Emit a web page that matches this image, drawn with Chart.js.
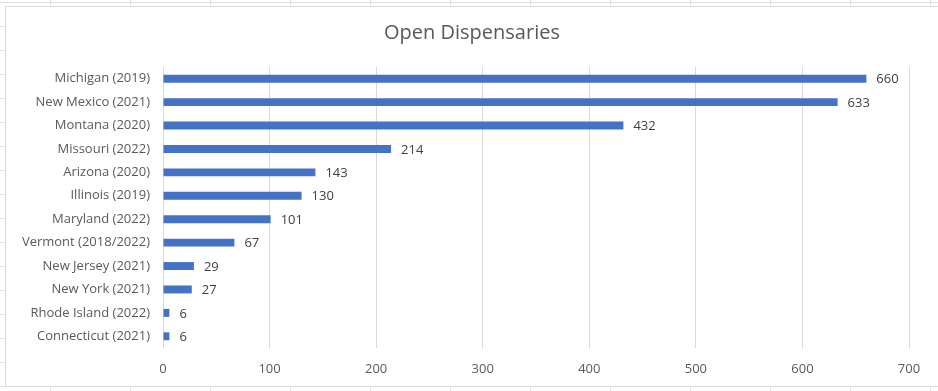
<!DOCTYPE html>
<html>
<head>
<meta charset="utf-8">
<script src="https://cdn.jsdelivr.net/npm/chart.js@4"></script>
<style>
  html, body { margin: 0; padding: 0; }
  body {
    width: 938px; height: 391px; overflow: hidden; position: relative;
    background-color: #fff;
    background-image:
      repeating-linear-gradient(to right, transparent 0 50px, #e1e1e1 50px 51px, transparent 51px 80px),
      repeating-linear-gradient(to bottom, #e1e1e1 0 1px, transparent 1px 24px);
    background-position: 0 0, 0 2px;
  }
  #box {
    position: absolute; left: 5px; top: 6px; width: 938px; height: 379px;
    background: #fff; border: 1px solid #d9d9d9;
  }
  canvas { display: block; }
</style>
</head>
<body>
<div id="box"><canvas id="chart" width="932" height="379"></canvas></div>
<script>
// ===== DATA =====
const states = [
  "Michigan (2019)", "New Mexico (2021)", "Montana (2020)", "Missouri (2022)",
  "Arizona (2020)", "Illinois (2019)", "Maryland (2022)", "Vermont (2018/2022)",
  "New Jersey (2021)", "New York (2021)", "Rhode Island (2022)", "Connecticut (2021)"
];
const dispensaries = [660, 633, 432, 214, 143, 130, 101, 67, 29, 27, 6, 6];
const xTicks = [0, 100, 200, 300, 400, 500, 600, 700];

const FONT = "'Open Sans', 'Noto Sans', sans-serif";

// ===== DATA LABELS =====
const valueLabels = {
  id: "valueLabels",
  afterDatasetsDraw(chart) {
    const ctx = chart.ctx;
    const meta = chart.getDatasetMeta(0);
    ctx.save();
    ctx.font = "13px " + FONT;
    ctx.fillStyle = "#404040";
    ctx.textBaseline = "middle";
    ctx.textAlign = "left";
    meta.data.forEach((bar, i) => {
      ctx.fillText(String(dispensaries[i]), bar.x + 10, bar.y + 1);
    });
    ctx.restore();
  }
};

// title should be centred on the whole chart box, not the padded area
const centreTitle = {
  id: "centreTitle",
  afterLayout(chart) {
    const t = chart.titleBlock;
    if (!t) return;
    t.left = 0;
    t.right = chart.width;
    t.width = chart.width;
  }
};

// ===== CHART =====
const ctx = document.getElementById("chart").getContext("2d");
new Chart(ctx, {
  type: "bar",
  data: {
    labels: states,
    datasets: [{
      label: "Open Dispensaries",
      data: dispensaries,
      backgroundColor: "#4472C4",
      barPercentage: 0.34,
      categoryPercentage: 1
    }]
  },
  options: {
    indexAxis: "y",
    responsive: false,
    animation: false,
    layout: { padding: { left: 0, right: 29, top: 0, bottom: 0 } },
    plugins: {
      legend: { display: false },
      tooltip: { enabled: false },
      title: {
        display: true,
        text: "Open Dispensaries",
        color: "#595959",
        font: { family: FONT, size: 20, weight: "normal" },
        padding: { top: 14, bottom: 22 }
      }
    },
    scales: {
      x: {
        min: 0,
        max: 700,
        afterBuildTicks: s => { s.ticks = xTicks.map(v => ({ value: v })); },
        grid: { color: "#d9d9d9", drawTicks: false },
        border: { display: false },
        ticks: { color: "#595959", font: { family: FONT, size: 13 }, padding: 13 },
        afterFit: s => { s.height = 38; }
      },
      y: {
        grid: { display: false, drawTicks: false },
        border: { display: false },
        ticks: { color: "#595959", font: { family: FONT, size: 13 }, padding: 13 },
        afterFit: s => { s.width = 157; }
      }
    }
  },
  plugins: [valueLabels, centreTitle]
});
</script>
</body>
</html>
